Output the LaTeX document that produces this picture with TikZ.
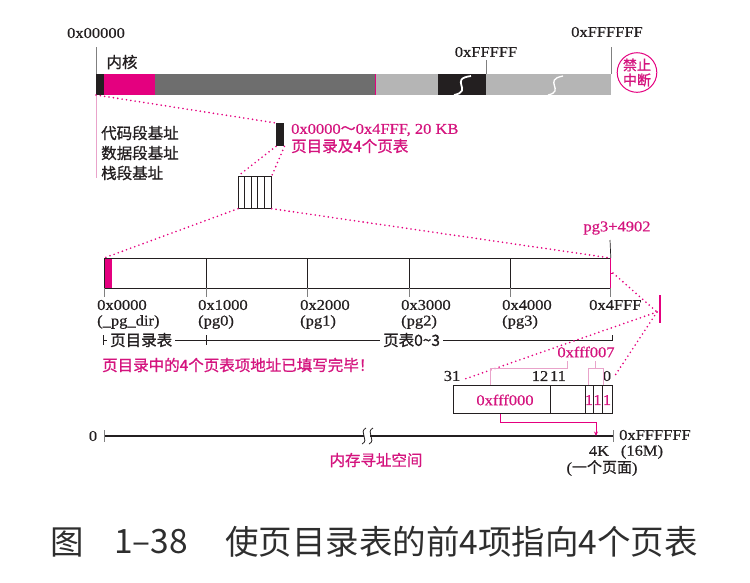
\documentclass[tikz,border=0pt]{standalone}
\usepackage{fontspec}
\setmainfont{Liberation Serif}[FakeStretch=1.1,FakeBold=0.6]
\newfontfamily\cjk{Noto Sans CJK SC}[FakeBold=0.9]
\newfontfamily\capcjk{Noto Sans CJK SC}
\usetikzlibrary{arrows.meta}
\definecolor{mag}{HTML}{E4007F}
\definecolor{magtxt}{HTML}{D4147E}
\definecolor{dk}{HTML}{6E6E6E}
\definecolor{lt}{HTML}{B5B5B5}
\definecolor{blk}{HTML}{231F20}
\definecolor{pinkline}{HTML}{E9A3CA}
\definecolor{capgray}{HTML}{2E2E2E}
\begin{document}
\begin{tikzpicture}[x=1pt,y=-1pt,
  lbl/.style={inner sep=0pt, text=blk, font=\fontsize{15}{17}\selectfont},
  zh/.style={inner sep=0pt, text=blk, font=\cjk\fontsize{15.5}{18}\selectfont},
  mlbl/.style={lbl, text=magtxt},
  mzh/.style={zh, text=magtxt},
  dots/.style={draw=mag, line width=1.8pt, dash pattern=on 0pt off 4.4pt, line cap=round},
  thinl/.style={draw=blk, line width=0.7pt},
  tickl/.style={draw=gray, line width=0.7pt},
  pinkl/.style={draw=pinkline, line width=0.9pt},
  capf/.style={inner sep=0pt, text=capgray, font=\capcjk\fontsize{33.5}{36}\selectfont},
  ]
\useasboundingbox (0,0) rectangle (750,582);

% ---- top memory bar
\fill[blk] (96,74) rectangle (104,95);
\fill[mag] (104,74) rectangle (155,95);
\fill[dk] (155,74) rectangle (375,95);
\fill[lt] (375,74) rectangle (438,95);
\fill[blk] (438,74) rectangle (486,95);
\fill[lt] (486,74) rectangle (611,95);
\draw[mag, line width=0.8pt] (375,74) -- (375,95);
\draw[white, line width=1.8pt] (471,76) .. controls (448,79) and (474,91) .. (454,95);
\draw[white, line width=1.3pt] (563,76) .. controls (542,80) and (566,91) .. (548,95);
\coordinate (barBL) at (96,95);
\coordinate (barTL) at (96,74);
\coordinate (barF) at (486,74);
\coordinate (barE) at (611,74);
\draw[tickl] (96,47) -- (barTL);
\draw[tickl] (486,60) -- (barF);
\draw[tickl] (611,47) -- (barE);
\node[lbl] (a0) at (96,33) {0x00000};
\node[lbl] (aF5) at (486,52) {0xFFFFF};
\node[lbl] (aF6) at (607,32) {0xFFFFFF};
\node[zh] (kern) at (122,62) {内核};
\node[draw=mag, circle, minimum size=38pt, inner sep=0pt, line width=1pt, text=magtxt,
      font=\cjk\fontsize{14}{15}\selectfont, align=center] (nointr) at (637,72.5) {禁止\\中断};

% ---- segment base labels
\draw[pinkl] (barBL) -- (96,178);
\node[zh, anchor=west] (cs) at (101,133) {代码段基址};
\node[zh, anchor=west] (ds) at (101,153) {数据段基址};
\node[zh, anchor=west] (ss) at (101,173) {栈段基址};

% ---- 20KB block
\node[fill=blk, minimum width=8pt, minimum height=23pt, inner sep=0pt, anchor=north west] (seg) at (276,123) {};
\draw[dots] (barBL) -- (seg.north west);
\node[mlbl, anchor=west] (segl1) at (291,130) {0x0000{\cjk ～}0x4FFF, 20 KB};
\node[mzh, anchor=west] (segl2) at (291,146) {页目录及4个页表};

% ---- small grid
\node[draw=blk, line width=0.7pt, minimum width=33pt, minimum height=32pt, inner sep=0pt, anchor=north west] (grid) at (238,176) {};
\foreach \x in {244.6,251.2,257.8,264.4} \draw[thinl] (\x,176) -- (\x,208);
\draw[dots] (seg.south west) -- (grid.north west);
\draw[dots] (seg.south east) -- (grid.north east);

% ---- big table
\fill[mag] (104,258) rectangle (112,288);
\node[draw=blk, line width=0.8pt, minimum width=506pt, minimum height=30pt, inner sep=0pt, anchor=north west] (tbl) at (104,258) {};
\draw[mag, line width=1.3pt] (tbl.north east) -- (tbl.south east);
\foreach \x in {206,307,409,510} \draw[thinl] (\x,258) -- (\x,288);
\foreach \x in {104,206,307,409,510,610} \draw[tickl] (\x,288) -- (\x,297);
\draw[dots] (grid.south west) -- (tbl.north west);
\draw[dots] (grid.south east) -- (tbl.north east);
\draw[thinl] (610,240) -- (tbl.north east);
\node[mlbl] (pg3l) at (617,228) {pg3+4902};

\node[lbl, anchor=west] (t0) at (97,305) {0x0000};
\node[lbl, anchor=west] (t1) at (198,305) {0x1000};
\node[lbl, anchor=west] (t2) at (300,305) {0x2000};
\node[lbl, anchor=west] (t3) at (401,305) {0x3000};
\node[lbl, anchor=west] (t4) at (502,305) {0x4000};
\node[lbl, anchor=west] (t5) at (589,305) {0x4FFF};
\node[lbl, anchor=west] (p0) at (97,322) {(\_pg\_dir)};
\node[lbl, anchor=west] (p1) at (198,322) {(pg0)};
\node[lbl, anchor=west] (p2) at (300,322) {(pg1)};
\node[lbl, anchor=west] (p3) at (401,322) {(pg2)};
\node[lbl, anchor=west] (p4) at (502,322) {(pg3)};

% ---- range row
\node[zh, anchor=west] (pdl) at (110,340) {页目录表};
\node[zh, anchor=west] (ptl) at (383,340) {页表0\textasciitilde 3};
\draw[thinl] (103,335) -- (103,345);
\draw[thinl] (103,340) -- ([xshift=-3pt]pdl.west);
\draw[thinl] ([xshift=3pt]pdl.east) -- ([xshift=-3pt]ptl.west);
\draw[thinl] (206,335) -- (206,345);
\draw[thinl] ([xshift=3pt]ptl.east) -- (612,340);
\draw[thinl] (612,335) -- (612,341);
\node[mzh, anchor=west] (note) at (102,365) {页目录中的4个页表项地址已填写完毕！};

% ---- page table entry
\draw[mag, line width=2pt] (660,295) -- (660,323);
\coordinate (pb) at (657,312);
\coordinate (tblr) at (613,273);
\draw[mag, line width=1pt] (610,273) -- (tblr);
\draw[dots] (tblr) -- (pb);
\node[draw=blk, line width=0.8pt, minimum width=159pt, minimum height=28pt, inner sep=0pt, anchor=north west] (ent) at (453,385) {};
\foreach \x in {550,585,593,602} \draw[thinl] (\x,385) -- (\x,413);
\node[lbl] (b31) at (452,376) {31};
\node[lbl] (b12) at (540,376) {12};
\node[lbl] (b11) at (558,376) {11};
\node[lbl] (b0) at (607,376) {0};
\coordinate (d31) at (462,380);
\coordinate (d0) at (614,377);
\draw[dots] (pb) -- (d31);
\draw[dots] (pb) -- (d0);
\draw[pinkl] (490,385) -- (490,368) -- (567,368) -- (567,361);
\draw[pinkl] (588,385) -- (588,368) -- (603,368) -- (603,385);
\draw[pinkl] (595,368) -- (595,361);
\node[mlbl] (v007) at (586,352) {0xfff007};
\node[mlbl] (v000) at (505,400) {0xfff000};
\node[mlbl] (f1) at (589,400) {1};
\node[mlbl] (f2) at (597.5,400) {1};
\node[mlbl] (f3) at (607,400) {1};

% ---- address space line
\coordinate (addr0) at (104,436);
\coordinate (addrE) at (613,436);
\draw[blk, line width=1.4pt] (addr0) -- (364,436);
\draw[blk, line width=1.4pt] (370,436) -- (addrE);
\draw[blk, line width=0.8pt] (366,428) .. controls (358,432) and (370,440) .. (362,444);
\draw[blk, line width=0.8pt] (373,428) .. controls (365,432) and (377,440) .. (369,444);
\draw[tickl] (104,430) -- (104,442);
\draw[tickl] (613,430) -- (613,442);
\draw[mag, line width=1pt, -{Stealth[length=4.5pt,width=4pt]}]
  ([xshift=47pt]ent.south west) -- (500,422) -- (596,422) -- (596,436);
\node[lbl] (z0) at (93,436) {0};
\node[lbl, anchor=west] (zE) at (619,435) {0xFFFFFF};
\node[lbl] (k4) at (599,451) {4K};
\node[lbl] (m16) at (642,452) {(16M)};
\node[lbl] (onep) at (602,468) {({\cjk 一个页面})};
\node[mzh] (mem) at (376,460) {内存寻址空间};

% ---- caption
\node[capf] (capfig) at (67,542) {图};
\node[capf] (capnum) at (151,542) {1–38};
\node[capf, anchor=west] (captxt) at (225,542) {使页目录表的前4项指向4个页表};
\end{tikzpicture}
\end{document}
